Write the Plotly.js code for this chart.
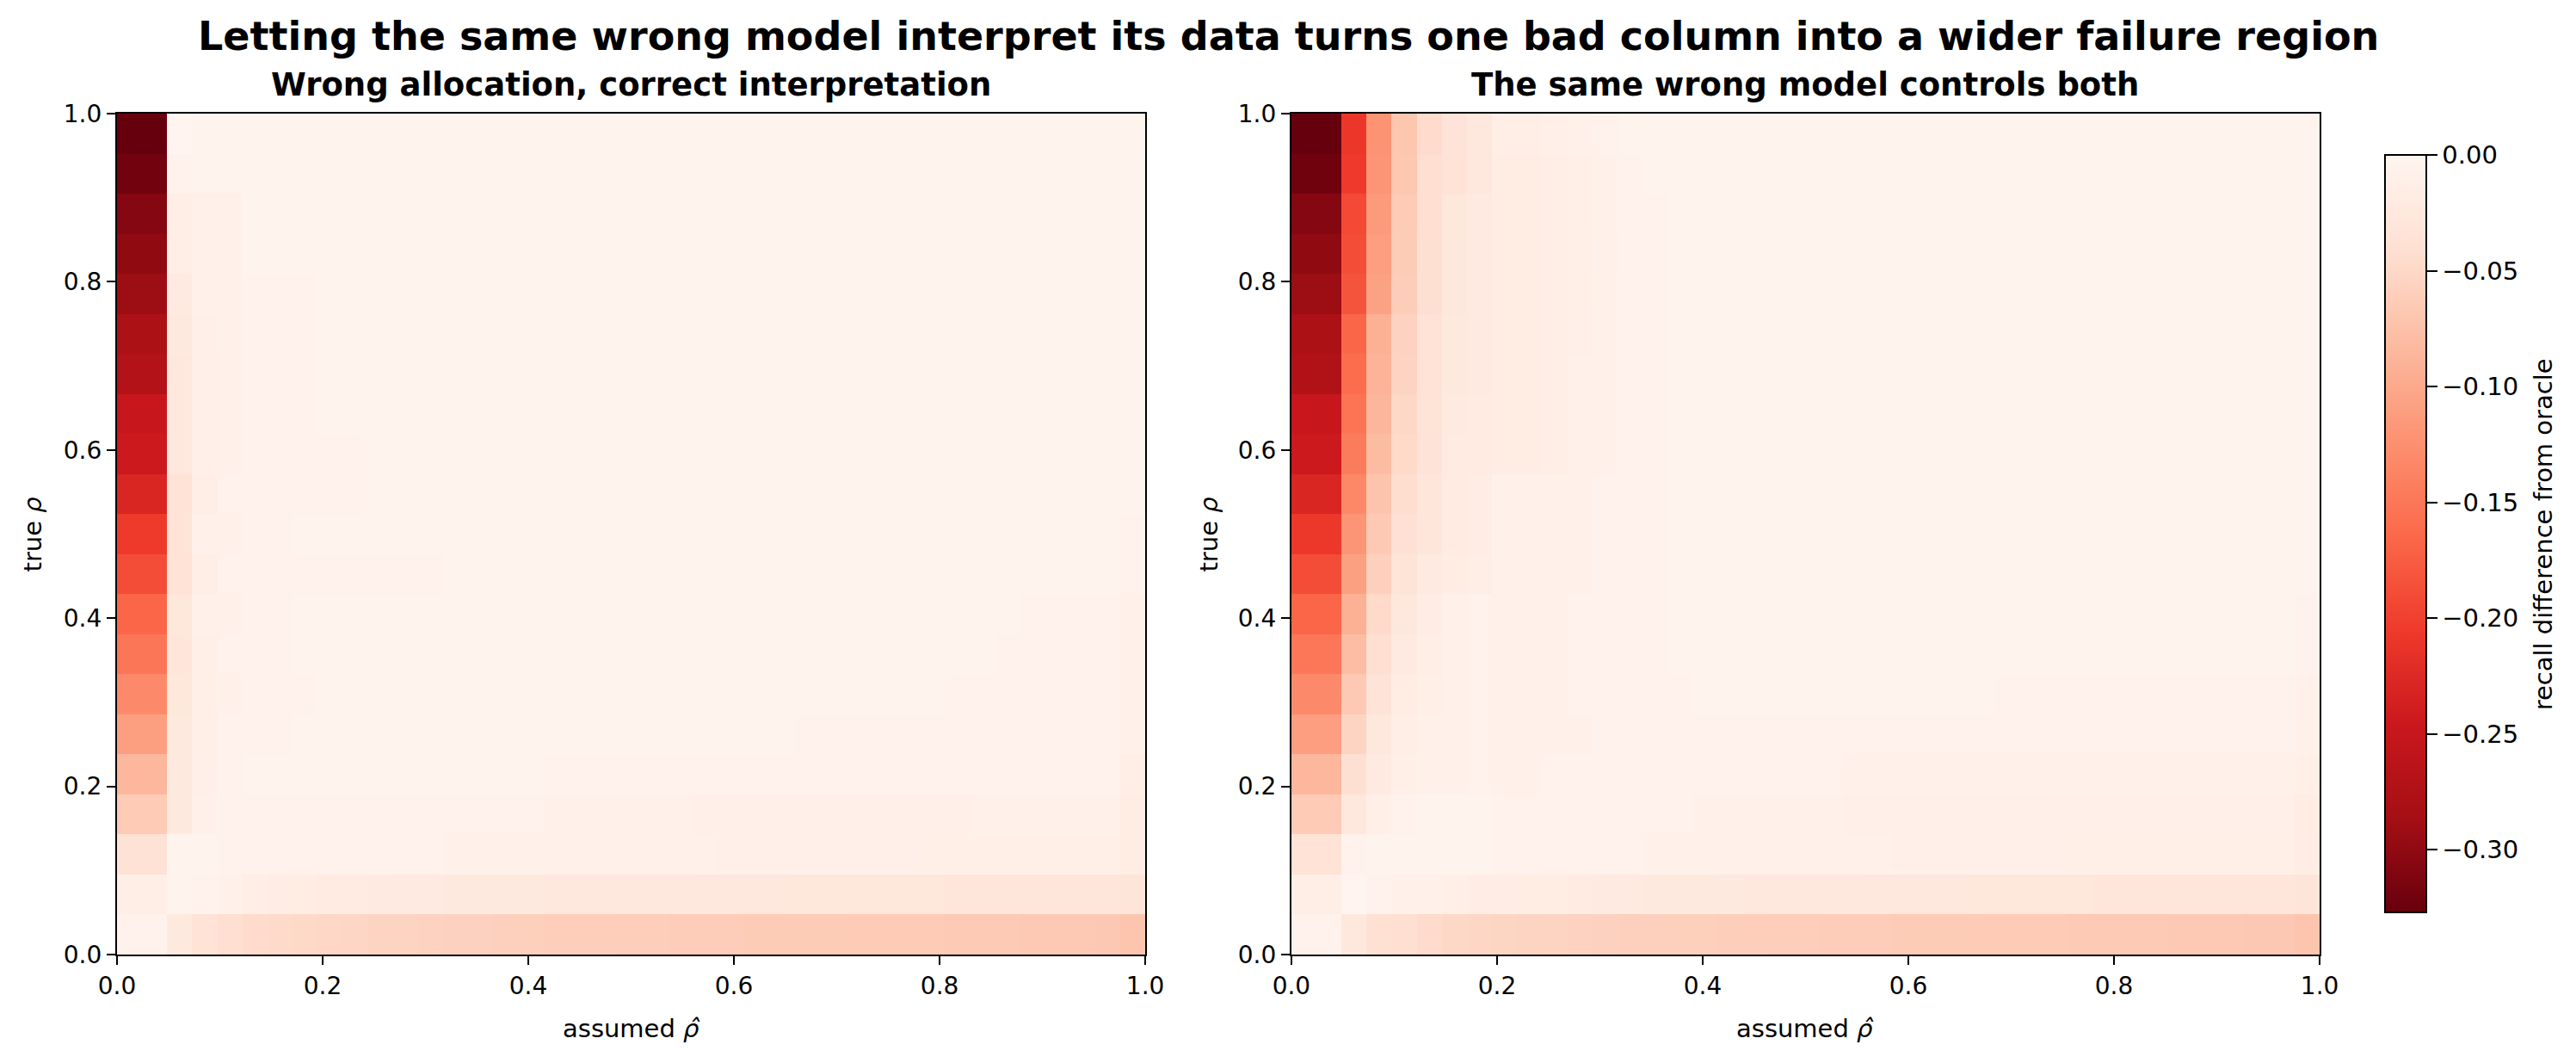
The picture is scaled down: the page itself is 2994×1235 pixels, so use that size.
<!DOCTYPE html>
<html>
<head>
<meta charset="utf-8">
<script src="https://cdn.plot.ly/plotly-3.0.1.min.js"></script>
<style>
  html, body { margin: 0; padding: 0; background: #fff; }
  #chart { width: 2994px; height: 1235px; }
</style>
</head>
<body>
<div id="chart"></div>
<script>
// assumed rho-hat (columns) and true rho (rows, bottom to top)
const rhoHat = [0, .025, .05, .075, .1, .125, .15, .175, .2, .225, .25, .275, .3, .325, .35, .375, .4, .425, .45, .475,
  .5, .525, .55, .575, .6, .625, .65, .675, .7, .725, .75, .775, .8, .825, .85, .875, .9, .925, .95, .975, 1];
const rhoTrue = [0, .05, .1, .15, .2, .25, .3, .35, .4, .45, .5, .55, .6, .65, .7, .75, .8, .85, .9, .95, 1];
const colorTicks = [0, -0.05, -0.1, -0.15, -0.2, -0.25, -0.3];

// left panel: wrong allocation, correct interpretation (one row per true rho)
const wrongAllocation = [
  [-.005,-.005,-.023,-.035,-.042,-.046,-.047,-.049,-.051,-.052, -.054,-.055,-.056,-.057,-.057,-.058,-.059,-.060,-.060,-.060, -.061,-.061,-.062,-.062,-.062,-.063,-.063,-.063,-.063,-.064, -.064,-.064,-.064,-.065,-.065,-.065,-.066,-.066,-.066,-.067, -.071],
  [-.014,-.014,-.004,-.005,-.009,-.014,-.017,-.018,-.019,-.020, -.021,-.022,-.022,-.023,-.023,-.024,-.024,-.025,-.025,-.025, -.026,-.026,-.026,-.027,-.027,-.027,-.027,-.028,-.028,-.028, -.028,-.028,-.028,-.029,-.029,-.029,-.029,-.029,-.029,-.030, -.032],
  [-.037,-.037,-.003,-.004,-.005,-.005,-.005,-.005,-.005,-.006, -.006,-.007,-.007,-.008,-.008,-.008,-.008,-.009,-.009,-.009, -.010,-.010,-.010,-.010,-.011,-.011,-.011,-.011,-.011,-.011, -.011,-.011,-.012,-.012,-.012,-.012,-.012,-.012,-.012,-.012, -.016],
  [-.064,-.064,-.024,-.008,-.005,-.005,-.005,-.005,-.005,-.005, -.005,-.005,-.005,-.005,-.005,-.005,-.005,-.009,-.010,-.010, -.010,-.010,-.010,-.011,-.011,-.011,-.011,-.011,-.011,-.011, -.011,-.011,-.011,-.011,-.009,-.009,-.009,-.009,-.009,-.009, -.018],
  [-.086,-.086,-.024,-.011,-.005,-.004,-.004,-.004,-.004,-.004, -.004,-.004,-.004,-.004,-.004,-.004,-.004,-.005,-.005,-.005, -.005,-.005,-.006,-.006,-.006,-.006,-.006,-.006,-.006,-.006, -.007,-.007,-.007,-.007,-.007,-.007,-.007,-.007,-.007,-.007, -.014],
  [-.110,-.110,-.024,-.012,-.007,-.005,-.005,-.004,-.004,-.004, -.004,-.004,-.004,-.004,-.004,-.004,-.004,-.004,-.004,-.004, -.004,-.004,-.004,-.004,-.004,-.004,-.004,-.005,-.005,-.005, -.005,-.005,-.005,-.005,-.006,-.006,-.006,-.006,-.006,-.006, -.010],
  [-.131,-.131,-.028,-.012,-.008,-.005,-.005,-.005,-.004,-.004, -.004,-.004,-.004,-.004,-.004,-.004,-.004,-.004,-.004,-.004, -.004,-.004,-.004,-.004,-.004,-.004,-.004,-.004,-.004,-.004, -.004,-.004,-.004,-.005,-.005,-.005,-.006,-.006,-.006,-.006, -.009],
  [-.151,-.151,-.029,-.012,-.006,-.005,-.005,-.004,-.004,-.004, -.004,-.004,-.004,-.004,-.004,-.004,-.004,-.004,-.004,-.004, -.004,-.004,-.004,-.004,-.004,-.004,-.004,-.004,-.004,-.004, -.004,-.004,-.004,-.004,-.004,-.005,-.005,-.005,-.005,-.005, -.008],
  [-.167,-.167,-.028,-.010,-.010,-.005,-.005,-.004,-.004,-.004, -.004,-.004,-.004,-.004,-.004,-.004,-.004,-.004,-.004,-.004, -.004,-.004,-.004,-.004,-.004,-.004,-.004,-.004,-.004,-.004, -.004,-.004,-.004,-.004,-.004,-.004,-.005,-.005,-.005,-.005, -.008],
  [-.189,-.189,-.035,-.013,-.006,-.006,-.006,-.006,-.006,-.006, -.006,-.005,-.005,-.004,-.004,-.004,-.004,-.004,-.004,-.004, -.004,-.004,-.004,-.004,-.004,-.004,-.004,-.004,-.004,-.004, -.004,-.004,-.004,-.004,-.004,-.004,-.004,-.004,-.004,-.004, -.007],
  [-.206,-.206,-.035,-.008,-.010,-.005,-.005,-.004,-.004,-.004, -.004,-.004,-.004,-.004,-.004,-.004,-.004,-.004,-.004,-.004, -.004,-.004,-.004,-.004,-.004,-.004,-.004,-.004,-.004,-.004, -.004,-.004,-.004,-.004,-.004,-.004,-.004,-.004,-.004,-.004, -.005],
  [-.229,-.229,-.035,-.014,-.007,-.005,-.005,-.005,-.005,-.005, -.004,-.004,-.004,-.004,-.004,-.004,-.004,-.004,-.004,-.004, -.004,-.004,-.004,-.004,-.004,-.004,-.004,-.004,-.004,-.004, -.004,-.004,-.004,-.004,-.004,-.004,-.004,-.004,-.004,-.004, -.004],
  [-.244,-.244,-.026,-.011,-.010,-.005,-.005,-.005,-.005,-.005, -.004,-.004,-.004,-.004,-.004,-.004,-.004,-.004,-.004,-.004, -.004,-.004,-.004,-.004,-.004,-.004,-.004,-.004,-.004,-.004, -.004,-.004,-.004,-.004,-.004,-.004,-.004,-.004,-.004,-.004, -.004],
  [-.249,-.249,-.026,-.011,-.010,-.005,-.005,-.005,-.004,-.004, -.004,-.004,-.004,-.004,-.004,-.004,-.004,-.004,-.004,-.004, -.004,-.004,-.004,-.004,-.004,-.004,-.004,-.004,-.004,-.004, -.004,-.004,-.004,-.004,-.004,-.004,-.004,-.004,-.004,-.004, -.004],
  [-.272,-.272,-.025,-.011,-.010,-.005,-.005,-.005,-.004,-.004, -.004,-.004,-.004,-.004,-.004,-.004,-.004,-.004,-.004,-.004, -.004,-.004,-.004,-.004,-.004,-.004,-.004,-.004,-.004,-.004, -.004,-.004,-.004,-.004,-.004,-.004,-.004,-.004,-.004,-.004, -.004],
  [-.279,-.279,-.024,-.011,-.008,-.005,-.005,-.005,-.004,-.004, -.004,-.004,-.004,-.004,-.004,-.004,-.004,-.004,-.004,-.004, -.004,-.004,-.004,-.004,-.004,-.004,-.004,-.004,-.004,-.004, -.004,-.004,-.004,-.004,-.004,-.004,-.004,-.004,-.004,-.004, -.004],
  [-.292,-.292,-.022,-.010,-.008,-.005,-.005,-.005,-.004,-.004, -.004,-.004,-.004,-.004,-.004,-.004,-.004,-.004,-.004,-.004, -.004,-.004,-.004,-.004,-.004,-.004,-.004,-.004,-.004,-.004, -.004,-.004,-.004,-.004,-.004,-.004,-.004,-.004,-.004,-.004, -.004],
  [-.300,-.300,-.014,-.010,-.008,-.004,-.004,-.004,-.004,-.004, -.004,-.004,-.004,-.004,-.004,-.004,-.004,-.004,-.004,-.004, -.004,-.004,-.004,-.004,-.004,-.004,-.004,-.004,-.004,-.004, -.004,-.004,-.004,-.004,-.004,-.004,-.004,-.004,-.004,-.004, -.004],
  [-.307,-.307,-.014,-.010,-.008,-.004,-.004,-.004,-.004,-.004, -.004,-.004,-.004,-.004,-.004,-.004,-.004,-.004,-.004,-.004, -.004,-.004,-.004,-.004,-.004,-.004,-.004,-.004,-.004,-.004, -.004,-.004,-.004,-.004,-.004,-.004,-.004,-.004,-.004,-.004, -.004],
  [-.320,-.320,-.005,-.004,-.004,-.004,-.004,-.004,-.004,-.004, -.004,-.004,-.004,-.004,-.004,-.004,-.004,-.004,-.004,-.004, -.004,-.004,-.004,-.004,-.004,-.004,-.004,-.004,-.004,-.004, -.004,-.004,-.004,-.004,-.004,-.004,-.004,-.004,-.004,-.004, -.004],
  [-.327,-.327,-.002,-.003,-.003,-.003,-.003,-.003,-.003,-.003, -.003,-.003,-.003,-.003,-.003,-.003,-.003,-.003,-.003,-.003, -.003,-.003,-.003,-.003,-.003,-.003,-.003,-.003,-.003,-.003, -.003,-.003,-.003,-.003,-.003,-.003,-.003,-.003,-.003,-.003, -.003]
];

// right panel: the same wrong model controls allocation and interpretation
const sameModel = [
  [-.005,-.005,-.025,-.039,-.042,-.046,-.050,-.052,-.053,-.054, -.055,-.056,-.057,-.058,-.058,-.059,-.059,-.060,-.060,-.061, -.061,-.062,-.062,-.062,-.063,-.063,-.063,-.064,-.064,-.064, -.064,-.065,-.065,-.065,-.065,-.066,-.066,-.066,-.067,-.067, -.071],
  [-.014,-.014,-.002,-.005,-.008,-.010,-.012,-.015,-.015,-.016, -.018,-.020,-.021,-.022,-.023,-.023,-.024,-.024,-.025,-.025, -.026,-.026,-.026,-.027,-.027,-.027,-.027,-.028,-.028,-.028, -.028,-.028,-.029,-.029,-.029,-.029,-.029,-.029,-.029,-.030, -.032],
  [-.036,-.036,-.006,-.004,-.003,-.003,-.003,-.003,-.005,-.005, -.006,-.006,-.007,-.007,-.008,-.008,-.008,-.009,-.009,-.009, -.010,-.010,-.010,-.010,-.011,-.011,-.011,-.011,-.011,-.011, -.011,-.012,-.012,-.012,-.012,-.012,-.012,-.012,-.012,-.012, -.015],
  [-.064,-.064,-.027,-.012,-.005,-.004,-.004,-.003,-.005,-.005, -.005,-.005,-.005,-.006,-.006,-.006,-.008,-.009,-.010,-.010, -.010,-.010,-.011,-.011,-.011,-.011,-.011,-.011,-.011,-.011, -.011,-.011,-.011,-.011,-.011,-.011,-.011,-.011,-.011,-.011, -.016],
  [-.086,-.086,-.040,-.022,-.012,-.008,-.008,-.007,-.008,-.008, -.007,-.006,-.006,-.006,-.006,-.006,-.006,-.006,-.007,-.007, -.007,-.007,-.008,-.008,-.008,-.008,-.008,-.008,-.008,-.008, -.009,-.009,-.009,-.009,-.009,-.009,-.009,-.009,-.009,-.009, -.012],
  [-.111,-.111,-.054,-.027,-.014,-.010,-.008,-.007,-.009,-.009, -.009,-.008,-.005,-.005,-.005,-.005,-.005,-.005,-.005,-.005, -.005,-.005,-.005,-.005,-.005,-.005,-.005,-.005,-.005,-.005, -.006,-.006,-.006,-.006,-.006,-.006,-.006,-.006,-.006,-.006, -.009],
  [-.131,-.131,-.066,-.033,-.018,-.012,-.009,-.007,-.009,-.009, -.008,-.007,-.005,-.005,-.005,-.005,-.004,-.004,-.004,-.004, -.004,-.004,-.004,-.004,-.004,-.004,-.004,-.004,-.005,-.005, -.005,-.005,-.005,-.005,-.005,-.005,-.005,-.005,-.005,-.005, -.008],
  [-.150,-.150,-.079,-.041,-.021,-.014,-.009,-.007,-.009,-.009, -.008,-.007,-.005,-.005,-.005,-.004,-.004,-.004,-.004,-.004, -.004,-.004,-.004,-.004,-.004,-.004,-.004,-.004,-.004,-.004, -.004,-.004,-.004,-.004,-.004,-.004,-.004,-.004,-.004,-.004, -.006],
  [-.167,-.167,-.093,-.047,-.026,-.015,-.010,-.007,-.009,-.009, -.008,-.007,-.005,-.005,-.005,-.004,-.004,-.004,-.004,-.004, -.004,-.004,-.004,-.004,-.004,-.004,-.004,-.004,-.004,-.004, -.004,-.004,-.004,-.004,-.004,-.004,-.004,-.004,-.004,-.004, -.005],
  [-.189,-.189,-.109,-.058,-.034,-.022,-.016,-.014,-.009,-.010, -.009,-.008,-.006,-.005,-.005,-.004,-.004,-.004,-.004,-.004, -.004,-.004,-.004,-.004,-.004,-.004,-.004,-.004,-.004,-.004, -.004,-.004,-.004,-.004,-.004,-.004,-.004,-.004,-.004,-.004, -.004],
  [-.208,-.208,-.120,-.066,-.038,-.029,-.020,-.017,-.009,-.010, -.009,-.008,-.006,-.005,-.005,-.004,-.004,-.004,-.004,-.004, -.004,-.004,-.004,-.004,-.004,-.004,-.004,-.004,-.004,-.004, -.004,-.004,-.004,-.004,-.004,-.004,-.004,-.004,-.004,-.004, -.004],
  [-.229,-.229,-.133,-.072,-.043,-.030,-.020,-.017,-.010,-.010, -.009,-.008,-.006,-.005,-.005,-.004,-.004,-.004,-.004,-.004, -.004,-.004,-.004,-.004,-.004,-.004,-.004,-.004,-.004,-.004, -.004,-.004,-.004,-.004,-.004,-.004,-.004,-.004,-.004,-.004, -.004],
  [-.244,-.244,-.145,-.081,-.048,-.033,-.020,-.020,-.018,-.016, -.014,-.010,-.008,-.006,-.005,-.004,-.004,-.004,-.004,-.004, -.004,-.004,-.004,-.004,-.004,-.004,-.004,-.004,-.004,-.004, -.004,-.004,-.004,-.004,-.004,-.004,-.004,-.004,-.004,-.004, -.004],
  [-.250,-.250,-.152,-.087,-.050,-.034,-.022,-.020,-.018,-.016, -.014,-.010,-.008,-.006,-.005,-.004,-.004,-.004,-.004,-.004, -.004,-.004,-.004,-.004,-.004,-.004,-.004,-.004,-.004,-.004, -.004,-.004,-.004,-.004,-.004,-.004,-.004,-.004,-.004,-.004, -.004],
  [-.273,-.273,-.160,-.090,-.055,-.036,-.024,-.021,-.018,-.016, -.014,-.010,-.008,-.006,-.005,-.004,-.004,-.004,-.004,-.004, -.004,-.004,-.004,-.004,-.004,-.004,-.004,-.004,-.004,-.004, -.004,-.004,-.004,-.004,-.004,-.004,-.004,-.004,-.004,-.004, -.004],
  [-.279,-.279,-.166,-.092,-.056,-.036,-.024,-.021,-.018,-.016, -.014,-.011,-.008,-.006,-.005,-.004,-.004,-.004,-.004,-.004, -.004,-.004,-.004,-.004,-.004,-.004,-.004,-.004,-.004,-.004, -.004,-.004,-.004,-.004,-.004,-.004,-.004,-.004,-.004,-.004, -.004],
  [-.292,-.292,-.183,-.107,-.062,-.040,-.027,-.022,-.018,-.016, -.014,-.012,-.008,-.006,-.005,-.004,-.004,-.004,-.004,-.004, -.004,-.004,-.004,-.004,-.004,-.004,-.004,-.004,-.004,-.004, -.004,-.004,-.004,-.004,-.004,-.004,-.004,-.004,-.004,-.004, -.004],
  [-.300,-.300,-.189,-.111,-.063,-.041,-.027,-.022,-.018,-.016, -.014,-.012,-.009,-.006,-.005,-.004,-.004,-.004,-.004,-.004, -.004,-.004,-.004,-.004,-.004,-.004,-.004,-.004,-.004,-.004, -.004,-.004,-.004,-.004,-.004,-.004,-.004,-.004,-.004,-.004, -.004],
  [-.307,-.307,-.192,-.114,-.064,-.042,-.028,-.022,-.018,-.016, -.014,-.012,-.008,-.006,-.005,-.004,-.004,-.004,-.004,-.004, -.004,-.004,-.004,-.004,-.004,-.004,-.004,-.004,-.004,-.004, -.004,-.004,-.004,-.004,-.004,-.004,-.004,-.004,-.004,-.004, -.004],
  [-.321,-.321,-.205,-.120,-.069,-.042,-.035,-.026,-.018,-.016, -.014,-.012,-.008,-.005,-.004,-.004,-.004,-.004,-.004,-.004, -.004,-.004,-.004,-.004,-.004,-.004,-.004,-.004,-.004,-.004, -.004,-.004,-.004,-.004,-.004,-.004,-.004,-.004,-.004,-.004, -.004],
  [-.327,-.327,-.209,-.121,-.070,-.046,-.033,-.026,-.014,-.013, -.011,-.010,-.007,-.004,-.003,-.003,-.003,-.003,-.003,-.003, -.003,-.003,-.003,-.003,-.003,-.003,-.003,-.003,-.003,-.003, -.003,-.003,-.003,-.003,-.003,-.003,-.003,-.003,-.003,-.003, -.003]
];

// matplotlib "Reds", reversed: darkest at the minimum
const redsR = [
  [0, '#67000d'], [0.125, '#a50f15'], [0.25, '#cb181d'], [0.375, '#ef3b2c'],
  [0.5, '#fb6a4a'], [0.625, '#fc9272'], [0.75, '#fcbba1'], [0.875, '#fee0d2'], [1, '#fff5f0']
];
const zMin = -0.327, zMax = 0;

[wrongAllocation, sameModel].forEach(m => m.forEach((row, i) => {
  if (row.length !== rhoHat.length) throw new Error('row ' + i + ' has ' + row.length + ' values');
}));

// cells fill the unit square like imshow(extent=(0,1,0,1))
const xEdges = rhoHat.concat([null]).map((_, i) => i / rhoHat.length);
const yEdges = rhoTrue.concat([null]).map((_, i) => i / rhoTrue.length);

const FONT = 'DejaVu Sans, sans-serif';

const traces = [
  {
    type: 'heatmap', z: wrongAllocation, x: xEdges, y: yEdges,
    xaxis: 'x', yaxis: 'y', colorscale: redsR, zmin: zMin, zmax: zMax,
    showscale: false, hoverinfo: 'skip'
  },
  {
    type: 'heatmap', z: sameModel, x: xEdges, y: yEdges,
    xaxis: 'x2', yaxis: 'y2', colorscale: redsR, zmin: zMin, zmax: zMax,
    hoverinfo: 'skip',
    colorbar: {
      x: 0.9259, xanchor: 'left', xpad: 0,
      y: 0.1417, yanchor: 'bottom', ypad: 0,
      len: 0.7126, lenmode: 'fraction', thickness: 48,
      outlinewidth: 2, outlinecolor: '#000',
      ticks: 'outside', ticklen: 12, tickwidth: 2, tickcolor: '#000',
      tickvals: colorTicks, tickformat: '.2f',
      tickfont: {family: FONT, size: 29, color: '#000'}
    }
  }
];

function axis(domain, anchor) {
  return {
    domain: domain, anchor: anchor, range: [0, 1],
    tickvals: [0, 0.2, 0.4, 0.6, 0.8, 1], tickformat: '.1f',
    ticks: 'outside', ticklen: 10, tickwidth: 2, tickcolor: '#000',
    tickfont: {family: FONT, size: 28, color: '#000'},
    showline: true, linewidth: 2, linecolor: '#000', mirror: true,
    showgrid: false, zeroline: false, fixedrange: true
  };
}

const yDom = [0.1020, 0.8931];
const leftMid = 0.245, rightMid = 0.7009;

function label(text, x, y, opts) {
  return Object.assign({
    text: text, x: x, y: y, xref: 'paper', yref: 'paper', showarrow: false,
    xanchor: 'center', yanchor: 'middle',
    font: {family: FONT, size: 29, color: '#000'}
  }, opts || {});
}

const layout = {
  width: 2994, height: 1235, autosize: false,
  margin: {l: 0, r: 0, t: 0, b: 0},
  paper_bgcolor: '#fff', plot_bgcolor: '#fff',
  showlegend: false,
  xaxis: axis([0.0454, 0.4446], 'y'),
  yaxis: axis(yDom, 'x'),
  xaxis2: axis([0.5013, 0.9005], 'y2'),
  yaxis2: axis(yDom, 'x2'),
  annotations: [
    label('<b>Letting the same wrong model interpret its data turns one bad column into a wider failure region</b>',
      0.5, 0.966, {font: {family: FONT, size: 46, color: '#000'}}),
    label('<b>Wrong allocation, correct interpretation</b>', leftMid, 0.901,
      {yanchor: 'bottom', font: {family: FONT, size: 37, color: '#000'}}),
    label('<b>The same wrong model controls both</b>', rightMid, 0.901,
      {yanchor: 'bottom', font: {family: FONT, size: 37, color: '#000'}}),
    label('assumed <i>ρ̂</i>', leftMid, 0.0324),
    label('assumed <i>ρ̂</i>', rightMid, 0.0324),
    label('true <i>ρ</i>', 0.0127, 0.4976, {textangle: -90}),
    label('true <i>ρ</i>', 0.4693, 0.4976, {textangle: -90}),
    label('recall difference from oracle', 0.9876, 0.4976, {textangle: -90})
  ]
};

Plotly.newPlot('chart', traces, layout, {staticPlot: true, displayModeBar: false});
</script>
</body>
</html>
